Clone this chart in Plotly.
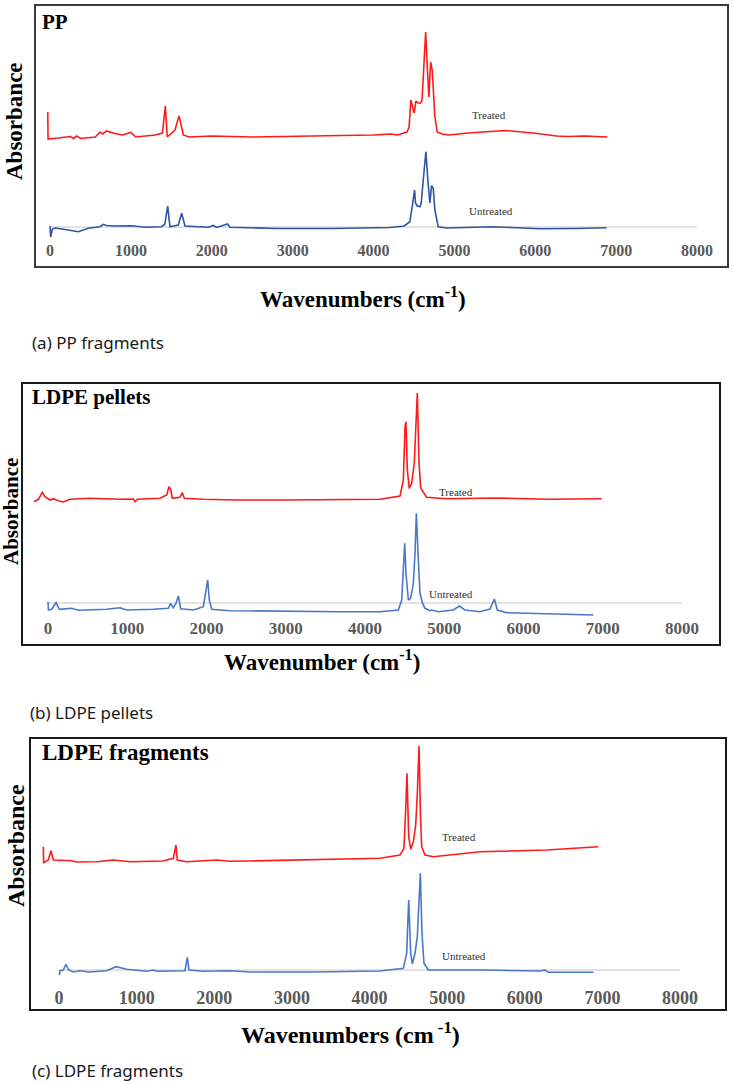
import plotly.graph_objects as go

W, H = 733, 1083

# ---------------- DATA (wavenumber in cm^-1, absorbance in offset a.u.) ----------------
TICKS = [0, 1000, 2000, 3000, 4000, 5000, 6000, 7000, 8000]

# (a) PP fragments
pp_treated_wn = [-28, -24, 100, 250, 290, 330, 380, 560, 620, 650, 700, 800, 900, 1000, 1060, 1200,
                 1300, 1390, 1426, 1450, 1545, 1595, 1625, 1650, 1720, 2000, 2500, 3000, 3600, 4000,
                 4212, 4300, 4414, 4440, 4462, 4503, 4524, 4550, 4582, 4600, 4623, 4645, 4669, 4685,
                 4706, 4726, 4759, 4788, 4848, 4935, 5167, 5400, 5630, 5977, 6266, 6400, 6613, 6890]
pp_treated_abs = [1.15, 0.88, 0.89, 0.905, 0.885, 0.91, 0.885, 0.90, 0.95, 0.93, 0.96, 0.935, 0.92, 0.945, 0.90, 0.915,
                  0.92, 0.94, 1.21, 0.90, 0.97, 1.11, 1.02, 0.92, 0.90, 0.91, 0.90, 0.91, 0.915, 0.92,
                  0.93, 0.92, 0.95, 1.00, 1.27, 1.14, 1.26, 1.24, 1.24, 1.27, 1.60, 1.95, 1.54, 1.30,
                  1.65, 1.57, 1.10, 0.95, 0.93, 0.92, 0.94, 0.955, 0.965, 0.94, 0.91, 0.905, 0.91, 0.90]
pp_untreated_wn = [0, 8, 30, 62, 150, 226, 350, 474, 618, 659, 700, 803, 1010, 1174, 1380, 1420, 1455, 1483,
                   1586, 1628, 1669, 1957, 2019, 2060, 2196, 2225, 2800, 3500, 4200, 4380, 4450, 4479, 4491,
                   4508, 4520, 4541, 4574, 4590, 4615, 4648, 4672, 4697, 4718, 4738, 4759, 4800, 4900, 5150,
                   5480, 5700, 6057, 6500, 6881]
pp_untreated_abs = [0.01, -0.10, -0.02, -0.01, -0.02, -0.03, -0.047, -0.013, 0.003, 0.027, 0.015, 0.01, 0.013,
                    -0.003, 0.003, 0.03, 0.21, 0.003, 0.02, 0.137, 0.01, -0.003, 0.015, -0.005, 0.03, -0.003,
                    -0.015, -0.015, -0.005, 0.01, 0.053, 0.203, 0.277, 0.37, 0.24, 0.21, 0.203, 0.24, 0.47,
                    0.753, 0.47, 0.24, 0.413, 0.39, 0.17, 0.003, -0.01, -0.007, 0.003, -0.005, -0.017, -0.015,
                    -0.007]

# (b) LDPE pellets
pel_treated_wn = [-177, -122, -72, -38, 25, 67, 130, 193, 278, 530, 909, 1077, 1098, 1127, 1413, 1498, 1527,
                  1548, 1569, 1666, 1695, 1720, 1960, 2381, 3000, 3600, 4189, 4442, 4484, 4505, 4517, 4534,
                  4559, 4589, 4622, 4660, 4682, 4703, 4728, 4778, 5031, 5662, 6293, 6987]
pel_treated_abs = [1.013, 1.037, 1.107, 1.063, 1.03, 1.043, 1.023, 1.01, 1.037, 1.047, 1.037, 1.04, 1.013,
                   1.037, 1.047, 1.08, 1.163, 1.137, 1.047, 1.057, 1.103, 1.047, 1.037, 1.03, 1.03, 1.03,
                   1.037, 1.07, 1.23, 1.763, 1.813, 1.33, 1.147, 1.197, 1.40, 2.10, 1.40, 1.147, 1.113,
                   1.057, 1.043, 1.05, 1.037, 1.043]
pel_untreated_wn = [0, 5, 46, 101, 143, 299, 383, 740, 909, 993, 1329, 1518, 1548, 1581, 1615, 1645, 1674,
                    1834, 1960, 1994, 2015, 2036, 2066, 2297, 3000, 3700, 4189, 4421, 4463, 4484, 4501, 4517,
                    4547, 4576, 4610, 4631, 4648, 4669, 4694, 4724, 4757, 4820, 4841, 4925, 5114, 5190, 5262,
                    5451, 5577, 5632, 5670, 5788, 6293, 6881]
pel_untreated_abs = [0.013, -0.07, -0.063, 0.003, -0.063, -0.053, -0.073, -0.063, -0.047, -0.07, -0.063,
                     -0.053, -0.003, -0.047, -0.003, 0.07, -0.057, -0.07, -0.037, 0.113, 0.23, 0.03, -0.063,
                     -0.077, -0.085, -0.087, -0.087, -0.07, 0.03, 0.43, 0.597, 0.297, 0.03, 0.047, 0.197,
                     0.497, 0.897, 0.497, 0.097, 0.003, -0.053, -0.077, -0.07, -0.087, -0.07, -0.03, -0.07,
                     -0.087, -0.06, 0.04, -0.07, -0.097, -0.11, -0.12]

# (c) LDPE fragments
frag_treated_wn = [-202, -198, -138, -103, -73, 55, 163, 228, 486, 700, 915, 1344, 1473, 1494, 1507, 1524,
                   1645, 2031, 2203, 2461, 3300, 4135, 4393, 4444, 4466, 4483, 4505, 4531, 4565, 4595, 4616,
                   4638, 4655, 4672, 4715, 4822, 5423, 6282, 6948]
frag_treated_abs = [1.233, 1.073, 1.10, 1.193, 1.10, 1.10, 1.093, 1.08, 1.083, 1.10, 1.083, 1.09, 1.117, 1.20,
                    1.25, 1.10, 1.083, 1.10, 1.087, 1.09, 1.10, 1.117, 1.15, 1.217, 1.60, 1.967, 1.333, 1.207,
                    1.283, 1.45, 1.767, 2.24, 1.60, 1.233, 1.15, 1.133, 1.183, 1.20, 1.233]
frag_untreated_wn = [4, 13, 55, 90, 124, 184, 270, 378, 614, 734, 872, 1130, 1215, 1258, 1623, 1653, 1675,
                     1859, 2203, 2461, 3300, 4135, 4436, 4479, 4505, 4531, 4552, 4586, 4616, 4638, 4655, 4676,
                     4702, 4758, 5423, 6196, 6261, 6304, 6883]
frag_untreated_abs = [-0.05, -0.007, 0.0, 0.057, 0.0, -0.02, -0.007, -0.02, -0.007, 0.033, 0.007, -0.013, 0.0,
                      -0.013, -0.007, 0.127, 0.0, -0.013, -0.007, -0.02, -0.02, -0.01, 0.017, 0.167, 0.70,
                      0.167, 0.06, 0.167, 0.333, 0.767, 0.967, 0.367, 0.067, 0.0, 0.0, -0.01, 0.0, -0.023,
                      -0.023]

titles = ["PP", "LDPE pellets", "LDPE fragments"]
x_titles = ["Wavenumbers (cm<sup>-1</sup>)", "Wavenumber (cm<sup>-1</sup>)", "Wavenumbers (cm<sup> -1</sup>)"]
captions = ["(a) PP fragments", "(b) LDPE pellets", "(c) LDPE fragments"]
series = [
    (pp_treated_wn, pp_treated_abs, pp_untreated_wn, pp_untreated_abs),
    (pel_treated_wn, pel_treated_abs, pel_untreated_wn, pel_untreated_abs),
    (frag_treated_wn, frag_treated_abs, frag_untreated_wn, frag_untreated_abs),
]

# ---------------- LAYOUT (pixel geometry of each panel) ----------------
geom = [
    dict(box=(35, 5, 728, 267), zero=227, x0=50, x8=697, blue="#2f55a4", tfs=16, tlen=9,
         title_xy=(40, 22), tsize=21, ab_xy=(14, 121), absz=23, xt_xy=(363, 297), xtsz=23,
         cap_xy=(30, 343), treated=(5428, 1.12), untreated=(5453, 0.16), border="#3a3a3a"),
    dict(box=(22, 383, 720, 645), zero=603, x0=48, x8=682, blue="#4a78c8", tfs=17, tlen=10,
         title_xy=(30, 397), tsize=21, ab_xy=(11, 512), absz=21, xt_xy=(322, 661), xtsz=23,
         cap_xy=(28, 712), treated=(5142, 1.11), untreated=(5091, 0.09), border="#1a1a1a"),
    dict(box=(30, 738, 726, 1010), zero=970, x0=59, x8=680, blue="#4a78c8", tfs=18, tlen=11,
         title_xy=(40, 752), tsize=23, ab_xy=(16, 846), absz=24, xt_xy=(350, 1033), xtsz=24,
         cap_xy=(30, 1070), treated=(5147, 1.33), untreated=(5211, 0.14), border="#1a1a1a"),
]

def px(xp):
    return xp / W

def py(yp):
    return 1 - yp / H

fig = go.Figure()
layout = dict(width=W, height=H, margin=dict(l=0, r=0, t=0, b=0), paper_bgcolor="white",
              plot_bgcolor="white", showlegend=False)
shapes, annotations = [], []
serif = "Liberation Serif"

for i, (g, (tw, ta, uw, ua)) in enumerate(zip(geom, series)):
    n = "" if i == 0 else str(i + 1)
    xr, yr = "x" + n, "y" + n
    bl, bt, br, bb = g["box"]
    scale = (g["x8"] - g["x0"]) / (TICKS[-1] - TICKS[0])
    xrange = [TICKS[0] + (bl - g["x0"]) / scale, TICKS[0] + (br - g["x0"]) / scale]
    yrange = [(g["zero"] - bb) / 100.0, (g["zero"] - bt) / 100.0]

    fig.add_trace(go.Scatter(x=tw, y=ta, mode="lines", line=dict(color="#ff1a1a", width=1.6),
                             xaxis=xr, yaxis=yr, hoverinfo="skip"))
    fig.add_trace(go.Scatter(x=uw, y=ua, mode="lines", line=dict(color=g["blue"], width=1.6),
                             xaxis=xr, yaxis=yr, hoverinfo="skip"))

    layout["xaxis" + n] = dict(domain=[px(bl), px(br)], range=xrange, anchor="free",
                               position=py(g["zero"]), tickvals=TICKS,
                               ticktext=[str(t) for t in TICKS], ticks="outside", ticklen=g["tlen"],
                               tickcolor="rgba(0,0,0,0)", showline=False, showgrid=False,
                               zeroline=False,
                               tickfont=dict(family=serif, size=g["tfs"], color="#5a5a5a",
                                             weight="bold"))
    layout["yaxis" + n] = dict(domain=[py(bb), py(bt)], range=yrange, anchor=xr, visible=False,
                               showgrid=False, zeroline=False)

    # horizontal axis line (light gray) at zero absorbance
    shapes.append(dict(type="line", xref=xr, yref=yr, x0=TICKS[0], x1=TICKS[-1], y0=0, y1=0,
                       line=dict(color="#d9d9d9", width=1.5), layer="below"))
    # panel border
    shapes.append(dict(type="rect", xref="paper", yref="paper", x0=px(bl), x1=px(br),
                       y0=py(bb), y1=py(bt), line=dict(color=g["border"], width=2)))

    annotations.append(dict(text="<b>" + titles[i] + "</b>", xref="paper", yref="paper",
                            x=px(g["title_xy"][0]), y=py(g["title_xy"][1]), xanchor="left",
                            yanchor="middle", showarrow=False,
                            font=dict(family=serif, size=g["tsize"], color="black")))
    annotations.append(dict(text="<b>Absorbance</b>", xref="paper", yref="paper",
                            x=px(g["ab_xy"][0]), y=py(g["ab_xy"][1]), xanchor="center",
                            yanchor="middle", textangle=-90, showarrow=False,
                            font=dict(family=serif, size=g["absz"], color="black")))
    annotations.append(dict(text="<b>" + x_titles[i] + "</b>", xref="paper", yref="paper",
                            x=px(g["xt_xy"][0]), y=py(g["xt_xy"][1]), xanchor="center",
                            yanchor="middle", showarrow=False,
                            font=dict(family=serif, size=g["xtsz"], color="black")))
    annotations.append(dict(text=captions[i], xref="paper", yref="paper",
                            x=px(g["cap_xy"][0]), y=py(g["cap_xy"][1]), xanchor="left",
                            yanchor="middle", showarrow=False,
                            font=dict(family="Noto Sans", size=17, color="#1a1a1a")))
    annotations.append(dict(text="Treated", xref=xr, yref=yr, x=g["treated"][0], y=g["treated"][1],
                            xanchor="center", yanchor="middle", showarrow=False,
                            font=dict(family=serif, size=11, color="#333333")))
    annotations.append(dict(text="Untreated", xref=xr, yref=yr, x=g["untreated"][0],
                            y=g["untreated"][1], xanchor="center", yanchor="middle", showarrow=False,
                            font=dict(family=serif, size=11, color="#333333")))

layout["shapes"] = shapes
layout["annotations"] = annotations
fig.update_layout(**layout)

fig.write_html("out.html", config={"displayModeBar": False},
               post_script="document.body.style.margin='0';")
